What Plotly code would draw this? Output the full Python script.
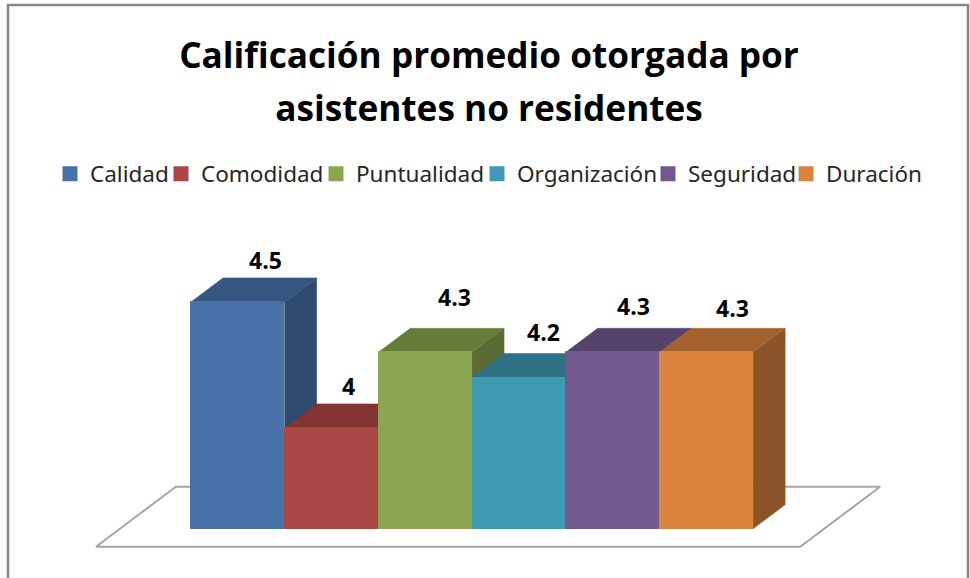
import plotly.graph_objects as go

categories = ["Calidad", "Comodidad", "Puntualidad", "Organización", "Seguridad", "Duración"]
values = [4.5, 4.0, 4.3, 4.2, 4.3, 4.3]
value_labels = ["4.5", "4", "4.3", "4.2", "4.3", "4.3"]
front_colors = ["#4672A8", "#AA4643", "#8BA650", "#3F9AB2", "#71588F", "#DB843D"]
top_colors = ["#34567F", "#813432", "#677C3B", "#2F7285", "#56436B", "#A4632E"]
side_colors = ["#2D4A6F", "#6F2D2B", "#5A6B34", "#296273", "#4A3A5D", "#8B5428"]

BASE = 3.6
W, H = 970, 578
PX_X = 93.7
PX_Y = 252.0
X0_PX = 237.8
BASE_PX = 528.7
DX = 32 / PX_X
DY = 24 / PX_Y
xr = [(0 - X0_PX) / PX_X, (W - X0_PX) / PX_X]
yr = [BASE - (H - BASE_PX) / PX_Y, BASE + BASE_PX / PX_Y]

fig = go.Figure()

# legend carriers: thick-edged bars give the larger legend swatch; they sit
# entirely beneath the floor, faces and fronts drawn afterwards
legend_text_left = [90, 201, 356, 517, 688, 826]
legend_ids = ["legend", "legend2", "legend3", "legend4", "legend5", "legend6"]
for i, (c, v) in enumerate(zip(categories, values)):
    fig.add_trace(go.Bar(
        x=[i], y=[v - BASE - 4 / PX_Y], base=BASE + 2 / PX_Y, width=1 - 6 / PX_X, name=c,
        legend=legend_ids[i], hoverinfo="skip",
        marker=dict(color=front_colors[i], line=dict(color=front_colors[i], width=3))))

# floor of the 3-D box, expressed in the same scale as the bars
floor_l = -0.5 - 95 / PX_X
floor_r = 5.5 + 47 / PX_X
floor_y = BASE - 18 / PX_Y
fig.add_trace(go.Scatter(
    x=[floor_l, floor_r, floor_r + 80 / PX_X, floor_l + 80 / PX_X, floor_l],
    y=[floor_y, floor_y, floor_y + 60 / PX_Y, floor_y + 60 / PX_Y, floor_y],
    mode="lines", fill="toself", fillcolor="#FFFFFF",
    line=dict(color="#A6A6A6", width=2), showlegend=False, hoverinfo="skip"))

# depth faces, left to right, under the fronts
for i, v in enumerate(values):
    l, r = i - 0.5, i + 0.5
    fig.add_trace(go.Scatter(
        x=[r, r + DX, r + DX, r, r], y=[BASE, BASE + DY, v + DY, v, BASE],
        mode="lines", fill="toself", fillcolor=side_colors[i],
        line=dict(color=side_colors[i], width=0.5), showlegend=False, hoverinfo="skip"))
    fig.add_trace(go.Scatter(
        x=[l, l + DX, r + DX, r, l], y=[v, v + DY, v + DY, v, v],
        mode="lines", fill="toself", fillcolor=top_colors[i],
        line=dict(color=top_colors[i], width=0.5), showlegend=False, hoverinfo="skip"))

# fronts: real bars, on an overlaying pair of axes so they sit above the depth faces
for i, (c, v) in enumerate(zip(categories, values)):
    fig.add_trace(go.Bar(
        x=[i], y=[v - BASE], base=BASE, width=1 - 1 / PX_X, name=c, xaxis="x2", yaxis="y2",
        showlegend=False,
        marker=dict(color=front_colors[i], line=dict(color=front_colors[i], width=1))))

label_dx = [27.5, 17, 29.5, 25, 21, 26]
label_dy = [41.5, 41.5, 55.5, 46, 46, 44]
annotations = [
    dict(x=i, y=v, xref="x", yref="y", text=f"<b>{t}</b>", showarrow=False,
         xshift=label_dx[i], yshift=label_dy[i], xanchor="center", yanchor="middle",
         font=dict(family="Open Sans", size=23, color="#000000"))
    for i, (v, t) in enumerate(zip(values, value_labels))
]

frame = dict(type="path", xref="paper", yref="paper",
             path=f"M {8/W} 0 L {8/W} {1-5/H} L {968/W} {1-5/H} L {968/W} 0",
             line=dict(color="#868686", width=2.5))

legend_layouts = {
    lid: dict(orientation="h", x=(left - 40) / W, xanchor="left", y=1 - 174 / H, yanchor="middle",
              font=dict(family="Noto Sans", size=22.5, color="#262626"),
              itemclick=False, itemdoubleclick=False, bgcolor="rgba(0,0,0,0)")
    for lid, left in zip(legend_ids, legend_text_left)
}

axis_off = dict(visible=False, fixedrange=True)
fig.update_layout(
    width=W, height=H,
    margin=dict(l=0, r=0, t=0, b=0, pad=0),
    paper_bgcolor="#FFFFFF", plot_bgcolor="#FFFFFF",
    barmode="overlay", bargap=0,
    showlegend=True,
    title=dict(
        text='<span style="font-size:35.2px"><b>Calificación promedio otorgada por<br>asistentes no residentes</b></span>',
        font=dict(family="Open Sans", size=40.8, color="#000000"),
        x=489 / W, xanchor="center", xref="paper",
        y=1 - 67.5 / H, yanchor="middle", yref="container"),
    xaxis=dict(range=xr, domain=[0, 1], **axis_off),
    yaxis=dict(range=yr, domain=[0, 1], **axis_off),
    xaxis2=dict(range=xr, overlaying="x", anchor="y2", **axis_off),
    yaxis2=dict(range=yr, overlaying="y", anchor="x2", **axis_off),
    annotations=annotations,
    shapes=[frame],
    **legend_layouts,
)

fig.write_html("out.html", config={"displayModeBar": False},
               post_script="document.body.style.margin='0';document.body.style.overflow='hidden';")
